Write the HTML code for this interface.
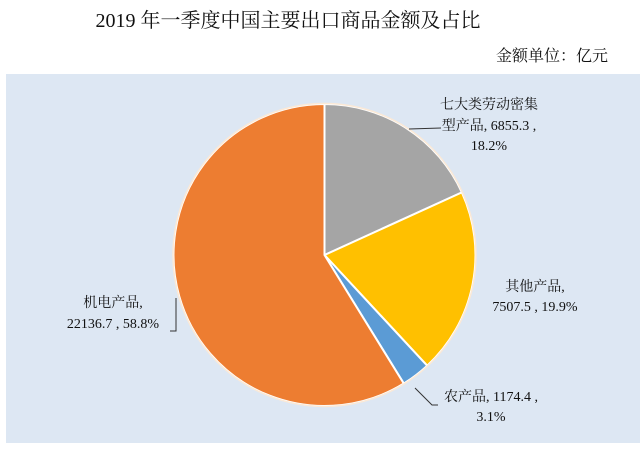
<!DOCTYPE html>
<html><head><meta charset="utf-8"><style>
html,body{margin:0;padding:0;background:#fff;}
svg{display:block;}
text{font-family:"Liberation Serif","Noto Serif CJK SC",serif;fill:#111;}
</style></head><body>
<svg width="640" height="449" viewBox="0 0 640 449">
<rect x="0" y="0" width="640" height="449" fill="#fff"/>
<rect x="6" y="74" width="634" height="369" fill="#dde7f3"/>
<text x="288" y="27" font-size="20" text-anchor="middle">2019 年一季度中国主要出口商品金额及占比</text>
<text x="608" y="61" font-size="16" text-anchor="end">金额单位：亿元</text>
<g stroke="#fff" stroke-width="2" stroke-linejoin="round">
<path d="M324.5,255 L324.5,104 A151,151 0 0 1 461.9,192.4 Z" fill="#a5a5a5"/>
<path d="M324.5,255 L461.9,192.4 A151,151 0 0 1 427.2,365.7 Z" fill="#ffc000"/>
<path d="M324.5,255 L427.2,365.7 A151,151 0 0 1 403.8,383.5 Z" fill="#5b9bd5"/>
<path d="M324.5,255 L403.8,383.5 A151,151 0 1 1 324.5,104 Z" fill="#ed7d31"/>
</g>
<circle cx="324.5" cy="255" r="151.5" fill="none" stroke="#fbe9d6" stroke-width="1.5"/>
<g stroke="#333" stroke-width="1" fill="none">
<polyline points="409,129 441,128"/>
<polyline points="170,331 176,331 176,298"/>
<polyline points="415,388 432,405 438,405"/>
</g>
<g font-size="14" text-anchor="middle">
<text x="489" y="109">七大类劳动密集</text>
<text x="489" y="130">型产品, 6855.3 ,</text>
<text x="489" y="150">18.2%</text>
<text x="535" y="291">其他产品,</text>
<text x="535" y="311">7507.5 , 19.9%</text>
<text x="113" y="307">机电产品,</text>
<text x="113" y="328">22136.7 , 58.8%</text>
<text x="491" y="401">农产品, 1174.4 ,</text>
<text x="491" y="421">3.1%</text>
</g>
</svg>
</body></html>
